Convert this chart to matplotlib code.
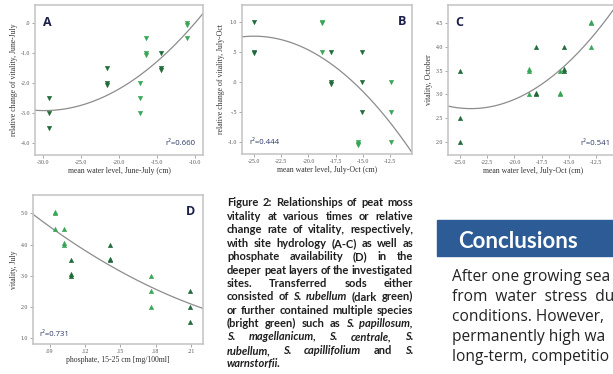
import numpy as np
import matplotlib
matplotlib.use("Agg")
import matplotlib.pyplot as plt
from matplotlib import transforms
from matplotlib.patches import Rectangle

# panel A: relative change of vitality vs water level, June-July
a_x = [-29.2, -29.2, -29.2, -21.6, -21.6, -17.2, -17.2, -17.2, -16.5, -16.5, -14.5, -14.5, -11.0, -11.0]
a_y = [-2.5, -3.0, -3.5, -1.5, -2.0, -2.0, -2.5, -3.0, -0.5, -1.0, -1.0, -1.5, 0.0, -0.5]
a_dark = [1, 1, 1, 1, 1, 0, 0, 0, 0, 0, 1, 1, 0, 0]
a_n = [1, 1, 1, 1, 2, 1, 1, 1, 1, 2, 1, 2, 2, 1]
a_fit = [0.0074, 0.442, 3.68]
a_xticks = [-30, -25, -20, -15, -10]
a_xlabels = ["-30.0", "-25.0", "-20.0", "-15.0", "-10.0"]
a_yticks = [0, -1, -2, -3, -4]
a_ylabels = [".0", "-1.0", "-2.0", "-3.0", "-4.0"]

# panel B: relative change of vitality vs water level, July-Oct
b_x = [-25.0, -25.0, -18.8, -18.8, -17.9, -17.9, -15.5, -15.1, -15.1, -15.1, -12.45, -12.45, -12.45]
b_y = [1.0, 0.5, 1.0, 0.5, 0.5, 0.0, -1.0, 0.5, 0.0, -0.5, 0.0, -0.5, -1.0]
b_dark = [1, 1, 0, 0, 1, 1, 0, 1, 1, 1, 0, 0, 0]
b_n = [1, 2, 2, 1, 1, 2, 3, 1, 1, 1, 1, 1, 1]
b_fit = [-0.00922, -0.4609, -4.999]
b_xticks = [-25, -22.5, -20, -17.5, -15, -12.5]
b_xlabels = ["-25.0", "-22.5", "-20.0", "-17.5", "-15.0", "-12.5"]
b_yticks = [1, 0.5, 0, -0.5, -1]
b_ylabels = ["1.0", ".5", ".0", "-.5", "-1.0"]

# panel C: vitality in October vs water level, July-Oct
c_x = [-25.0, -25.0, -25.0, -18.66, -18.66, -18.06, -18.06, -15.8, -15.8, -15.43, -15.43, -13.0, -13.0]
c_y = [3.5, 2.5, 2.0, 3.5, 3.0, 4.0, 3.0, 3.5, 3.0, 4.0, 3.5, 4.5, 4.0]
c_dark = [1, 1, 1, 0, 0, 1, 1, 0, 0, 1, 1, 0, 0]
c_n = [1, 1, 1, 2, 1, 1, 2, 1, 2, 1, 2, 2, 1]
c_fit = [0.01222, 0.58656, 9.7387]
c_xticks = [-25, -22.5, -20, -17.5, -15, -12.5]
c_xlabels = ["-25.0", "-22.5", "-20.0", "-17.5", "-15.0", "-12.5"]
c_yticks = [2.0, 2.5, 3.0, 3.5, 4.0, 4.5]
c_ylabels = ["2.0", "2.5", "3.0", "3.5", "4.0", "4.5"]

# panel D: vitality in July vs phosphate in 15-25 cm
d_x = [0.0943, 0.0943, 0.1019, 0.1019, 0.1085, 0.1085, 0.141, 0.141, 0.176, 0.176, 0.176, 0.2094, 0.2094, 0.2094]
d_y = [5.0, 4.5, 4.5, 4.0, 3.5, 3.0, 4.0, 3.5, 3.0, 2.5, 2.0, 2.5, 2.0, 1.5]
d_dark = [0, 0, 0, 0, 1, 1, 1, 1, 0, 0, 0, 1, 1, 1]
d_n = [2, 1, 1, 2, 1, 2, 1, 2, 1, 1, 1, 1, 1, 1]
d_fit = [53.6, -36.775, 7.450]
d_xticks = [0.09, 0.12, 0.15, 0.18, 0.21]
d_xlabels = [".09", ".12", ".15", ".18", ".21"]
d_yticks = [5, 4, 3, 2, 1]
d_ylabels = ["5.0", "4.0", "3.0", "2.0", "1.0"]

caption = [
    "Figure 2: Relationships of peat moss",
    "vitality at various times or relative",
    "change rate of vitality, respectively,",
    "with site hydrology (A-C) as well as",
    "phosphate availability (D) in the",
    "deeper peat layers of the investigated",
    "sites. Transferred sods either",
    "consisted of *S. rubellum* (dark green)",
    "or further contained multiple species",
    "(bright green) such as *S. papillosum,*",
    "*S. magellanicum, S. centrale, S.*",
    "*rubellum, S. capillifolium* and *S.*",
    "*warnstorfii.*",
]
body = [
    "After one growing sea",
    "from  water  stress  du",
    "conditions. However,",
    "permanently high wa",
    "long-term, competitio",
]

DARK = "#1f6a38"
BRIGHT = "#38a657"
W, H = 613, 374

fig = plt.figure(figsize=(W / 100, H / 100), dpi=100)
fig.patch.set_facecolor("white")


def px_box(left, top, right, bottom):
    return [left / W, 1 - bottom / H, (right - left) / W, (bottom - top) / H]


def panel(box, xs, ys, dark, n, fit, marker, xlim, ylim, xt, xl, yt, yl,
          xlabel, ylabel, letter, letter_pos, r2, r2_pos, r2_ha):
    ax = fig.add_axes(box)
    ax.set_xlim(*xlim)
    ax.set_ylim(*ylim)
    for s in ax.spines.values():
        s.set_color("#c2c2c2")
        s.set_linewidth(1.1)
    ax.set_xticks(xt)
    ax.set_xticklabels(xl)
    ax.set_yticks(yt)
    ax.set_yticklabels(yl)
    ax.tick_params(length=2, width=0.6, color="#999999", labelsize=4.2,
                   labelcolor="#555555", pad=1.5)
    for lab in ax.get_xticklabels() + ax.get_yticklabels():
        lab.set_family("Liberation Serif")
    ax.set_xlabel(xlabel, fontsize=5.6, family="Liberation Serif", color="#333333", labelpad=1.5)
    ax.set_ylabel(ylabel, fontsize=5.6, family="Liberation Serif", color="#333333", labelpad=2)

    # fitted quadratic
    gx = np.linspace(xlim[0], xlim[1], 200)
    ax.plot(gx, np.polyval(fit, gx), color="#8c8c8c", lw=0.9, zorder=2)

    # points; stacked duplicates are nudged a little so they read as piles
    shift = 1.6 if marker == "^" else -1.6
    for x, y, d, k in zip(xs, ys, dark, n):
        col = DARK if d else BRIGHT
        for j in range(k):
            tr = transforms.offset_copy(ax.transData, fig=fig, x=0, y=j * shift, units="dots")
            ax.plot([x], [y], marker=marker, ms=3.1, mew=0.4, color=col, mec=col, ls="none",
                    transform=tr, zorder=3, clip_on=False)

    ax.text(letter_pos[0], letter_pos[1], letter, transform=ax.transAxes, fontsize=9,
            fontweight="bold", color="#1b1f4a", family="Open Sans", va="top",
            ha="left" if letter_pos[0] < 0.5 else "right")
    ax.text(r2_pos[0], r2_pos[1], "r²=" + r2, transform=ax.transAxes, fontsize=5.6,
            color="#2e3a66", family="Open Sans", ha=r2_ha, va="bottom")
    return ax


panel(px_box(35, 5, 203, 155), a_x, a_y, a_dark, a_n, a_fit, "v",
      (-31.05, -8.95), (-4.4, 0.6), a_xticks, a_xlabels, a_yticks, a_ylabels,
      "mean water level, June-July (cm)", "relative change of vitality, June-July",
      "A", (0.05, 0.93), "0.660", (0.955, 0.055), "right")

panel(px_box(242, 5, 412, 154), b_x, b_y, b_dark, b_n, b_fit, "v",
      (-26.1, -10.5), (-1.2, 1.28), b_xticks, b_xlabels, b_yticks, b_ylabels,
      "mean water level, July-Oct (cm)", "relative change of vitality, July-Oct",
      "B", (0.965, 0.93), "0.444", (0.045, 0.055), "left")

panel(px_box(448, 5, 618, 155), c_x, c_y, c_dark, c_n, c_fit, "^",
      (-26.1, -10.5), (1.72, 4.89), c_xticks, c_xlabels, c_yticks, c_ylabels,
      "mean water level, July-Oct (cm)", "vitality, October",
      "C", (0.04, 0.93), "0.541", (0.955, 0.055), "right")

panel(px_box(33, 195, 203, 344), d_x, d_y, d_dark, d_n, d_fit, "^",
      (0.0758, 0.2202), (0.81, 5.59), d_xticks, d_xlabels, d_yticks, d_ylabels,
      "phosphate, 15-25 cm [mg/100ml]", "vitality, July",
      "D", (0.955, 0.93), "0.731", (0.04, 0.04), "left")

# justified figure caption, laid out word by word
renderer = fig.canvas.get_renderer()
cap_left, cap_right, cap_top, cap_step = 227, 413, 206.5, 13.4
cap_font = dict(fontsize=8.0, family="Lato", fontweight="bold", color="#1e1e1e")

probe = fig.text(0, 0, "a a", **cap_font)
w_sp = probe.get_window_extent(renderer).width
probe.set_text("aa")
space = w_sp - probe.get_window_extent(renderer).width
probe.remove()

for i, line in enumerate(caption):
    words, italic = [], False
    for w in line.split():
        if w.startswith("*"):
            italic = True
        words.append((w.strip("*"), italic))
        if w.endswith("*"):
            italic = False
    base = 1 - (cap_top + i * cap_step) / H
    texts = [fig.text(0, base, w, style="italic" if it else "normal", va="baseline", **cap_font)
             for w, it in words]
    widths = [t.get_window_extent(renderer).width for t in texts]
    if i == len(caption) - 1 or len(texts) == 1:
        gap = space
    else:
        gap = (cap_right - cap_left - sum(widths)) / (len(texts) - 1)
    x = cap_left
    for t, wd in zip(texts, widths):
        t.set_x(x / W)
        x += wd + gap

# conclusions header and the start of its text
fig.patches.append(Rectangle((437 / W, 1 - 256 / H), (W - 437) / W + 0.01, 36 / H,
                             transform=fig.transFigure, color="#2c5b95", zorder=0))
fig.text(458 / W, 1 - 248 / H, "Conclusions", fontsize=16, family="Lato",
         fontweight="bold", color="white", va="baseline")
for i, line in enumerate(body):
    fig.text(452 / W, 1 - (281 + i * 20) / H, line, fontsize=11.2, family="Open Sans",
             color="#222222", va="baseline")

fig.savefig("out.png", dpi=100, facecolor="white")
